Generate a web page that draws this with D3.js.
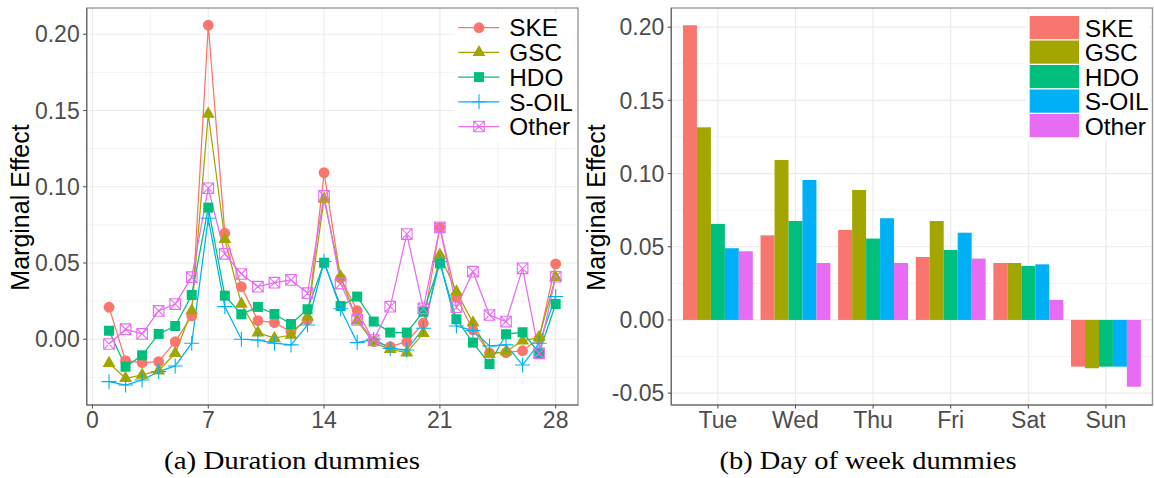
<!DOCTYPE html>
<html><head><meta charset="utf-8">
<script src="https://cdn.jsdelivr.net/npm/d3@7"></script>
<style>
html,body{margin:0;padding:0;background:#fff;}
svg{display:block;}
</style></head>
<body>
<svg id="chart" width="1154" height="478" font-family="Liberation Sans, Arial, sans-serif"></svg>
<script>
// ---------- data ----------
const seriesNames = ["SKE", "GSC", "HDO", "S-OIL", "Other"];
const seriesColors = ["#F8766D", "#A3A500", "#00BF7D", "#00B0F6", "#E76BF3"];

const durationDays = [1,2,3,4,5,6,7,8,9,10,11,12,13,14,15,16,17,18,19,20,21,22,23,24,25,26,27,28];
const durSKE   = [0.021,-0.014,-0.0153,-0.0147,-0.0016,0.0153,0.2059,0.0695,0.0345,0.0122,0.0109,0.005,0.0127,0.1093,0.040,0.0188,-0.0015,-0.0048,-0.0016,0.0105,0.0734,0.0275,0.0061,-0.009,-0.0088,-0.0075,0.0005,0.0494];
const durGSC   = [-0.0157,-0.0256,-0.0234,-0.0206,-0.0092,0.0188,0.1477,0.0656,0.0231,0.0043,0.0007,0.0028,0.0148,0.092,0.041,0.0122,-0.0022,-0.0066,-0.0088,0.0039,0.0553,0.0312,0.0109,-0.0096,-0.0081,-0.001,0.0013,0.0407];
const durHDO   = [0.0056,-0.018,-0.0105,0.0035,0.0087,0.029,0.0863,0.0286,0.0164,0.0212,0.0166,0.01,0.0197,0.0502,0.0218,0.028,0.0116,0.0044,0.0044,0.0181,0.0498,0.0131,-0.0022,-0.0162,0.0033,0.0046,-0.009,0.0231];
const durSOIL  = [-0.0278,-0.03,-0.0267,-0.0212,-0.0175,-0.0026,0.0793,0.0214,0.0,-0.0005,-0.0026,-0.0037,0.0094,0.051,0.02,-0.0022,0.0,-0.006,-0.007,0.0072,0.051,0.0087,0.0057,-0.0044,-0.0037,-0.0169,-0.0026,0.028];
const durOther = [-0.0031,0.0066,0.0035,0.0186,0.0231,0.0407,0.099,0.056,0.0428,0.0345,0.0371,0.0389,0.0302,0.094,0.0365,0.0127,-0.0005,0.0214,0.069,0.0203,0.0734,0.021,0.0443,0.0159,0.0116,0.0465,-0.0092,0.041];

const weekDays  = ["Tue", "Wed", "Thu", "Fri", "Sat", "Sun"];
const dowSKE    = [0.2013, 0.0578, 0.0615, 0.043, 0.0389, -0.0319];
const dowGSC    = [0.1316, 0.1093, 0.0888, 0.0676, 0.0389, -0.033];
const dowHDO    = [0.0656, 0.0676, 0.0556, 0.0478, 0.0369, -0.0319];
const dowSOIL   = [0.049, 0.0956, 0.0695, 0.0596, 0.038, -0.0319];
const dowOther  = [0.0469, 0.0389, 0.0389, 0.0419, 0.0137, -0.0456];

const leftXTicks = [0, 7, 14, 21, 28];
const leftXMinor = [3.5, 10.5, 17.5, 24.5];
const leftYTicks = [0.00, 0.05, 0.10, 0.15, 0.20];
const leftYMinor = [-0.025, 0.025, 0.075, 0.125, 0.175];
const rightYTicks = [-0.05, 0.00, 0.05, 0.10, 0.15, 0.20];
const rightYMinor = [-0.025, 0.025, 0.075, 0.125, 0.175];

const durSeries = [durSKE, durGSC, durHDO, durSOIL, durOther];
const dowSeries = [dowSKE, dowGSC, dowHDO, dowSOIL, dowOther];

const fmt = d => d.toFixed(2);  // plain hyphen minus, like the reference

// ---------- layout ----------
const svg = d3.select("#chart");
const L = {x0: 86.7, x1: 578, y0: 8, y1: 405};
const R = {x0: 671.3, x1: 1152.5, y0: 8, y1: 405};
const gridCol = "#EBEBEB";
const tickCol = "#4D4D4D";
const fontSize = 23;
const serif = "'Liberation Serif','Times New Roman',serif";

// ---------- left panel ----------
const xL = d3.scaleLinear().domain([-0.35, 29.35]).range([L.x0, L.x1]);
const yL = d3.scaleLinear().domain([-0.0431, 0.2172]).range([L.y1, L.y0]);

const gL = svg.append("g");
gL.append("rect").attr("x", L.x0).attr("y", L.y0).attr("width", L.x1 - L.x0).attr("height", L.y1 - L.y0).attr("fill", "#fff");
gL.selectAll(".minx").data(leftXMinor).join("line")
  .attr("x1", d => xL(d)).attr("x2", d => xL(d)).attr("y1", L.y0).attr("y2", L.y1)
  .attr("stroke", gridCol).attr("stroke-width", 0.6);
gL.selectAll(".miny").data(leftYMinor).join("line")
  .attr("x1", L.x0).attr("x2", L.x1).attr("y1", d => yL(d)).attr("y2", d => yL(d))
  .attr("stroke", gridCol).attr("stroke-width", 0.6);
gL.selectAll(".majx").data(leftXTicks).join("line")
  .attr("x1", d => xL(d)).attr("x2", d => xL(d)).attr("y1", L.y0).attr("y2", L.y1)
  .attr("stroke", gridCol).attr("stroke-width", 1.2);
gL.selectAll(".majy").data(leftYTicks).join("line")
  .attr("x1", L.x0).attr("x2", L.x1).attr("y1", d => yL(d)).attr("y2", d => yL(d))
  .attr("stroke", gridCol).attr("stroke-width", 1.2);

// lines
const lineGen = d3.line().x((d, i) => xL(durationDays[i])).y(d => yL(d));
durSeries.forEach((s, k) => {
  gL.append("path").attr("d", lineGen(s)).attr("fill", "none")
    .attr("stroke", seriesColors[k]).attr("stroke-width", 1.25);
});

function drawMarker(g, k, cx, cy) {
  const c = seriesColors[k];
  if (k === 0) {
    g.append("circle").attr("cx", cx).attr("cy", cy).attr("r", 5.4).attr("fill", c);
  } else if (k === 1) {
    g.append("path").attr("transform", `translate(${cx},${cy})`)
      .attr("d", d3.symbol().type(d3.symbolTriangle).size(72)()).attr("fill", c);
  } else if (k === 2) {
    g.append("rect").attr("x", cx - 5).attr("y", cy - 5).attr("width", 10).attr("height", 10).attr("fill", c);
  } else if (k === 3) {
    g.append("path").attr("d", `M${cx - 7.5},${cy}H${cx + 7.5}M${cx},${cy - 7.5}V${cy + 7.5}`)
      .attr("stroke", c).attr("stroke-width", 1.1).attr("fill", "none");
  } else {
    const h = 5.3;
    g.append("path").attr("d", `M${cx - h},${cy - h}H${cx + h}V${cy + h}H${cx - h}Z M${cx - h},${cy - h}L${cx + h},${cy + h} M${cx + h},${cy - h}L${cx - h},${cy + h}`)
      .attr("stroke", c).attr("stroke-width", 1.1).attr("fill", "none");
  }
}
durSeries.forEach((s, k) => {
  const g = gL.append("g");
  s.forEach((v, i) => drawMarker(g, k, xL(durationDays[i]), yL(v)));
});

// legend left
const legL = gL.append("g");
legL.append("rect").attr("x", 455).attr("y", 14).attr("width", 120).attr("height", 126).attr("fill", "#fff");
seriesNames.forEach((n, k) => {
  const cy = 27.7 + k * 24.7;
  legL.append("line").attr("x1", 458.3).attr("x2", 499.3).attr("y1", cy).attr("y2", cy)
    .attr("stroke", seriesColors[k]).attr("stroke-width", 1.25);
  drawMarker(legL, k, 479, cy);
  legL.append("text").attr("x", 509.3).attr("y", cy + 8.7).attr("font-size", 24.3).attr("fill", "#000").text(n);
});

// border & axes left
gL.append("rect").attr("x", L.x0).attr("y", L.y0).attr("width", L.x1 - L.x0).attr("height", L.y1 - L.y0)
  .attr("fill", "none").attr("stroke", "#9a9a9a").attr("stroke-width", 1.4);
gL.append("line").attr("x1", L.x0).attr("x2", L.x0).attr("y1", L.y0).attr("y2", L.y1).attr("stroke", "#666").attr("stroke-width", 1.2);
gL.append("line").attr("x1", L.x0).attr("x2", L.x1).attr("y1", L.y1).attr("y2", L.y1).attr("stroke", "#666").attr("stroke-width", 1.2);
gL.selectAll(".ytk").data(leftYTicks).join("line")
  .attr("x1", L.x0 - 3.5).attr("x2", L.x0).attr("y1", d => yL(d)).attr("y2", d => yL(d)).attr("stroke", "#555").attr("stroke-width", 1.1);
gL.selectAll(".xtk").data(leftXTicks).join("line")
  .attr("x1", d => xL(d)).attr("x2", d => xL(d)).attr("y1", L.y1).attr("y2", L.y1 + 3.5).attr("stroke", "#555").attr("stroke-width", 1.1);
gL.selectAll(".ylab").data(leftYTicks).join("text")
  .attr("x", L.x0 - 7).attr("y", d => yL(d) + 8.2).attr("text-anchor", "end")
  .attr("font-size", fontSize).attr("fill", tickCol).text(fmt);
gL.selectAll(".xlab").data(leftXTicks).join("text")
  .attr("x", d => xL(d)).attr("y", 428).attr("text-anchor", "middle")
  .attr("font-size", fontSize).attr("fill", tickCol).text(d => d);
gL.append("text").attr("transform", `translate(29,${(L.y0 + L.y1) / 2 + 1}) rotate(-90)`)
  .attr("text-anchor", "middle").attr("font-size", 25).attr("fill", "#000").text("Marginal Effect");

// ---------- right panel ----------
const xR = d3.scalePoint().domain(weekDays).range([R.x0, R.x1]).padding(0.6);
const yR = d3.scaleLinear().domain([-0.0581, 0.2131]).range([R.y1, R.y0]);
const step = xR.step();
const xSub = d3.scaleBand().domain(seriesNames).range([-0.45 * step, 0.45 * step]);

const gR = svg.append("g");
gR.append("rect").attr("x", R.x0).attr("y", R.y0).attr("width", R.x1 - R.x0).attr("height", R.y1 - R.y0).attr("fill", "#fff");
gR.selectAll(".miny").data(rightYMinor).join("line")
  .attr("x1", R.x0).attr("x2", R.x1).attr("y1", d => yR(d)).attr("y2", d => yR(d))
  .attr("stroke", gridCol).attr("stroke-width", 0.6);
gR.selectAll(".majx").data(weekDays).join("line")
  .attr("x1", d => xR(d)).attr("x2", d => xR(d)).attr("y1", R.y0).attr("y2", R.y1)
  .attr("stroke", gridCol).attr("stroke-width", 1.2);
gR.selectAll(".majy").data(rightYTicks).join("line")
  .attr("x1", R.x0).attr("x2", R.x1).attr("y1", d => yR(d)).attr("y2", d => yR(d))
  .attr("stroke", gridCol).attr("stroke-width", 1.2);

dowSeries.forEach((s, k) => {
  gR.selectAll(".bar" + k).data(s).join("rect")
    .attr("x", (d, i) => xR(weekDays[i]) + xSub(seriesNames[k]))
    .attr("width", xSub.bandwidth())
    .attr("y", d => yR(Math.max(0, d)))
    .attr("height", d => Math.abs(yR(d) - yR(0)))
    .attr("fill", seriesColors[k]);
});

// legend right
const legR = gR.append("g");
legR.append("rect").attr("x", 1026).attr("y", 13).attr("width", 124).attr("height", 128).attr("fill", "#fff");
seriesNames.forEach((n, k) => {
  const top = 16 + k * 24.5;
  legR.append("rect").attr("x", 1029.7).attr("y", top).attr("width", 49.3).attr("height", 23.2).attr("fill", seriesColors[k]);
  legR.append("text").attr("x", 1084.7).attr("y", top + 20.5).attr("font-size", 24.5).attr("fill", "#000").text(n);
});

gR.append("rect").attr("x", R.x0).attr("y", R.y0).attr("width", R.x1 - R.x0).attr("height", R.y1 - R.y0)
  .attr("fill", "none").attr("stroke", "#9a9a9a").attr("stroke-width", 1.4);
gR.append("line").attr("x1", R.x0).attr("x2", R.x0).attr("y1", R.y0).attr("y2", R.y1).attr("stroke", "#666").attr("stroke-width", 1.2);
gR.append("line").attr("x1", R.x0).attr("x2", R.x1).attr("y1", R.y1).attr("y2", R.y1).attr("stroke", "#666").attr("stroke-width", 1.2);
gR.selectAll(".ytk").data(rightYTicks).join("line")
  .attr("x1", R.x0 - 3.5).attr("x2", R.x0).attr("y1", d => yR(d)).attr("y2", d => yR(d)).attr("stroke", "#555").attr("stroke-width", 1.1);
gR.selectAll(".xtk").data(weekDays).join("line")
  .attr("x1", d => xR(d)).attr("x2", d => xR(d)).attr("y1", R.y1).attr("y2", R.y1 + 3.5).attr("stroke", "#555").attr("stroke-width", 1.1);
gR.selectAll(".ylab").data(rightYTicks).join("text")
  .attr("x", R.x0 - 7).attr("y", d => yR(d) + 8.2).attr("text-anchor", "end")
  .attr("font-size", fontSize).attr("fill", tickCol).text(fmt);
gR.selectAll(".xlab").data(weekDays).join("text")
  .attr("x", d => xR(d)).attr("y", 428).attr("text-anchor", "middle")
  .attr("font-size", fontSize).attr("fill", tickCol).text(d => d);
gR.append("text").attr("transform", `translate(605,${(R.y0 + R.y1) / 2 + 1}) rotate(-90)`)
  .attr("text-anchor", "middle").attr("font-size", 25).attr("fill", "#000").text("Marginal Effect");

// captions
svg.append("text").attr("x", 292).attr("y", 469).attr("text-anchor", "middle")
  .style("font-family", serif).attr("font-size", 25)
  .attr("textLength", 256).attr("lengthAdjust", "spacingAndGlyphs").text("(a) Duration dummies");
svg.append("text").attr("x", 868).attr("y", 469).attr("text-anchor", "middle")
  .style("font-family", serif).attr("font-size", 25)
  .attr("textLength", 297).attr("lengthAdjust", "spacingAndGlyphs").text("(b) Day of week dummies");
</script>
</body></html>
